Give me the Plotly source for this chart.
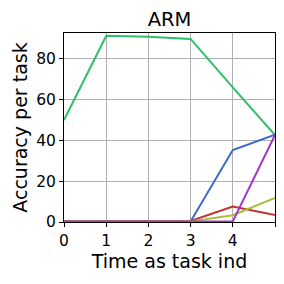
import plotly.graph_objects as go

tasks = [0, 1, 2, 3, 4, 5]
green = [50.0, 91.2, 90.8, 89.7, 66.0, 42.6]
blue = [0.3, 0.3, 0.3, 0.3, 35.3, 42.8]
red = [0.3, 0.3, 0.3, 0.5, 7.6, 3.4]
lime = [0.3, 0.3, 0.3, 0.3, 3.3, 11.8]
purple = [0.3, 0.3, 0.3, 0.3, 0.3, 42.6]

series = [
    (green, "#2fbf6a"),
    (blue, "#3a6bc9"),
    (red, "#c43232"),
    (lime, "#a6c03a"),
    (purple, "#a335cc"),
]

fig = go.Figure()
for ys, c in series:
    fig.add_trace(go.Scatter(x=tasks, y=ys, mode="lines",
                             line=dict(color=c, width=2), showlegend=False,
                             hoverinfo="skip"))

font = dict(family="DejaVu Sans", size=15.5, color="black")
fig.update_layout(
    width=284, height=284,
    margin=dict(l=64, r=9, t=33, b=62, autoexpand=False),
    paper_bgcolor="white", plot_bgcolor="white",
    font=font,
    title=dict(text="ARM", x=0.5, xref="paper", xanchor="center",
               y=1 - 19/284, yanchor="middle", font=dict(size=19.5),
               automargin=False),
    xaxis=dict(range=[0, 5], tickvals=[0, 1, 2, 3, 4, 5],
               ticktext=["0", "1", "2", "3", "4", ""],
               showgrid=True, gridcolor="#b0b0b0", gridwidth=1,
               showline=True, linecolor="black", linewidth=1, mirror=True,
               ticks="outside", ticklen=4, tickcolor="black",
               zeroline=False, automargin=False,
               title=dict(text="Time as task ind", standoff=6)),
    yaxis=dict(range=[0, 92.6], tickvals=[0, 20, 40, 60, 80],
               showgrid=True, gridcolor="#b0b0b0", gridwidth=1,
               showline=True, linecolor="black", linewidth=1, mirror=True,
               ticks="outside", ticklen=4, tickcolor="black",
               zeroline=False, automargin=False,
               title=dict(text="Accuracy per task", standoff=3)),
)

fig.write_html("out.html", config={"displayModeBar": False},
               post_script="document.body.style.margin='0';document.body.style.overflow='hidden';")
